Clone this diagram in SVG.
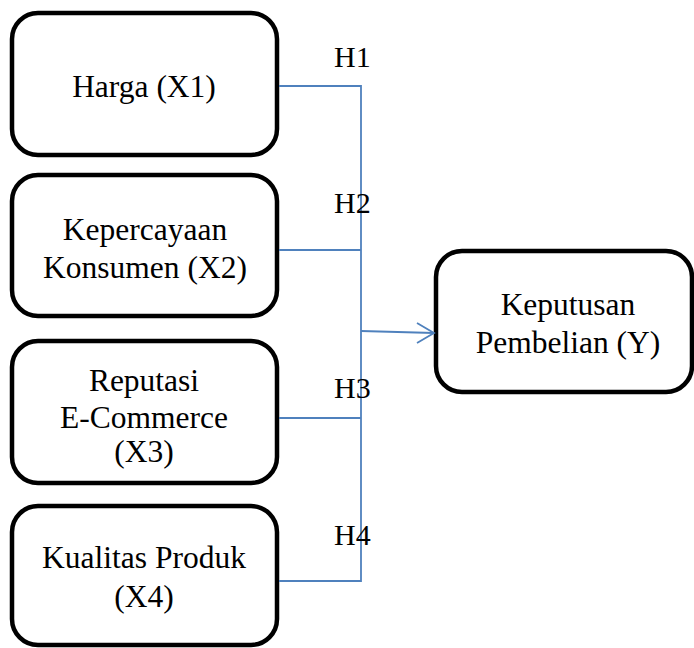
<svg xmlns="http://www.w3.org/2000/svg" width="694" height="648" viewBox="0 0 694 648">
<style>
.box{fill:#fff;stroke:#000;stroke-width:4.5}
.t{font-family:"Liberation Serif","Times New Roman",serif;font-size:31.5px;fill:#000;text-anchor:middle}
.h{font-family:"Liberation Serif","Times New Roman",serif;font-size:30px;fill:#000}
.c{fill:none;stroke:#4F81BD;stroke-width:1.8}
</style>
<rect width="694" height="648" fill="#fff"/>
<g id="x1">
<rect class="box" x="12" y="13" width="265" height="142" rx="26"/>
<text class="t" x="144" y="97">Harga (X1)</text>
</g>
<g id="x2">
<rect class="box" x="12" y="175" width="265" height="141" rx="26"/>
<text class="t" x="145" y="240">Kepercayaan</text>
<text class="t" x="145" y="278">Konsumen (X2)</text>
</g>
<g id="x3">
<rect class="box" x="12" y="341" width="265" height="142" rx="26"/>
<text class="t" x="144" y="391">Reputasi</text>
<text class="t" x="144" y="428">E-Commerce</text>
<text class="t" x="144" y="462">(X3)</text>
</g>
<g id="x4">
<rect class="box" x="12" y="506" width="265" height="139" rx="26"/>
<text class="t" x="144" y="568">Kualitas Produk</text>
<text class="t" x="144" y="607">(X4)</text>
</g>
<g id="y">
<rect class="box" x="436" y="251" width="256" height="141" rx="26"/>
<text class="t" x="568" y="315">Keputusan</text>
<text class="t" x="568" y="353">Pembelian (Y)</text>
</g>
<g id="connectors">
<path class="c" d="M279 86H361V581H279"/>
<path class="c" d="M279 250H361"/>
<path class="c" d="M279 418H361"/>
<path class="c" d="M361 331L434 333"/>
<path class="c" d="M417 323L434 333L417 343"/>
</g>
<g id="labels">
<text class="h" x="334" y="67">H1</text>
<text class="h" x="334" y="213">H2</text>
<text class="h" x="334" y="398">H3</text>
<text class="h" x="334" y="545">H4</text>
</g>
</svg>
